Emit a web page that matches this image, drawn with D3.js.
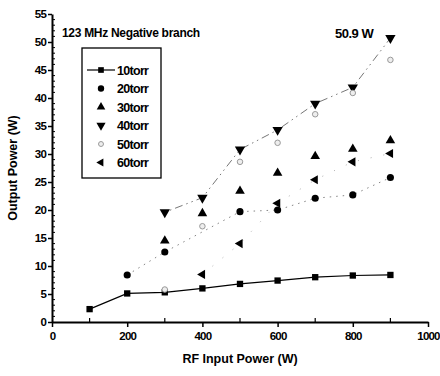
<!DOCTYPE html>
<html>
<head>
<meta charset="utf-8">
<script src="https://cdn.jsdelivr.net/npm/d3@7"></script>
<style>
  body { margin: 0; background: #fff; }
  svg text { font-family: "Liberation Sans", Arial, sans-serif; font-weight: bold; }
</style>
</head>
<body>
<svg width="440" height="376"></svg>
<script>
// values
var power = [100, 200, 300, 400, 500, 600, 700, 800, 900];
var torr10 = [2.3, 5.1, 5.3, 6.0, 6.8, 7.4, 8.0, 8.3, 8.4];
var torr20 = [null, 8.4, 12.5, null, 19.7, 20.0, 22.1, 22.7, 25.8];
var torr30 = [null, null, 14.5, 19.4, 23.4, 26.6, 29.6, 30.9, 32.4];
var torr40 = [null, null, 19.6, 22.2, 30.8, 34.3, 39.0, 41.9, 50.7];
var torr50 = [null, null, 5.8, 17.1, 28.6, 32.0, 37.1, 40.9, 46.8];
var torr60 = [null, null, null, 8.5, 14.0, 21.2, 25.4, 28.6, 30.1];
var seriesNames = ["10torr", "20torr", "30torr", "40torr", "50torr", "60torr"];
var xTicks = [0, 200, 400, 600, 800, 1000];
var yTicks = [0, 5, 10, 15, 20, 25, 30, 35, 40, 45, 50, 55];

var svg = d3.select("svg");

var xScale = d3.scaleLinear().domain([0, 1000]).range([52, 428]);
var yScale = d3.scaleLinear().domain([0, 55]).range([322, 14]);

//////////// axes ////////////
var xAxis = d3.axisBottom(xScale).tickValues(xTicks).tickFormat(d3.format("d")).tickSize(5).tickSizeOuter(0);
var gx = svg.append("g").attr("transform", "translate(0,322)").call(xAxis);
gx.select(".domain").attr("stroke-width", 2);
gx.selectAll(".tick line").attr("stroke-width", 1.5);
gx.selectAll(".tick text").attr("font-size", "11.5px").attr("dy", "0.9em").attr("letter-spacing", "-0.8");

// minor x ticks pointing up
svg.append("g").selectAll("line")
  .data(d3.range(100, 1000, 200))
  .join("line")
  .attr("x1", d => xScale(d)).attr("x2", d => xScale(d))
  .attr("y1", 322).attr("y2", 318)
  .attr("stroke", "#000").attr("stroke-width", 1.2);

var yAxis = d3.axisLeft(yScale).tickValues(yTicks).tickSize(4).tickSizeOuter(0);
var gy = svg.append("g").attr("transform", "translate(52,0)").call(yAxis);
gy.select(".domain").attr("stroke-width", 2);
gy.selectAll(".tick line").attr("stroke-width", 1.5);
gy.selectAll(".tick text").attr("font-size", "11.5px").attr("x", -6).attr("letter-spacing", "-0.8");

// minor y ticks pointing in
svg.append("g").selectAll("line")
  .data(d3.range(1, 55).filter(d => d % 5 != 0))
  .join("line")
  .attr("x1", 52).attr("x2", 55)
  .attr("y1", d => yScale(d)).attr("y2", d => yScale(d))
  .attr("stroke", "#000").attr("stroke-width", 1);

svg.append("text")
  .attr("text-anchor", "middle")
  .attr("font-size", "12.5px")
  .attr("transform", "translate(240,363)")
  .text("RF Input Power (W)");

svg.append("text")
  .attr("text-anchor", "middle")
  .attr("font-size", "12.5px")
  .attr("transform", "translate(17,168)rotate(-90)")
  .text("Output Power (W)");

svg.append("text")
  .attr("x", 62).attr("y", 37)
  .attr("font-size", "12px").attr("letter-spacing", "-0.3")
  .text("123 MHz Negative branch");

svg.append("text")
  .attr("x", 335).attr("y", 38)
  .attr("font-size", "13px").attr("letter-spacing", "-0.5")
  .text("50.9 W");

//////////// series ////////////
var allSeries = [torr10, torr20, torr30, torr40, torr50, torr60];
var shapes = [
  {type: d3.symbolSquare, size: 40, rot: 0, fill: "#000", stroke: "none"},
  {type: d3.symbolCircle, size: 40, rot: 0, fill: "#000", stroke: "none"},
  {type: d3.symbolTriangle, size: 40, rot: 0, fill: "#000", stroke: "none"},
  {type: d3.symbolTriangle, size: 46, rot: 180, fill: "#000", stroke: "none"},
  {type: d3.symbolCircle, size: 24, rot: 0, fill: "#eee", stroke: "#999"},
  {type: d3.symbolTriangle, size: 36, rot: -90, fill: "#000", stroke: "none"}
];

function points(vals) {
  return power.map((p, i) => [p, vals[i]]).filter(d => d[1] != null);
}

var line = d3.line().x(d => xScale(d[0])).y(d => yScale(d[1]));

// connecting lines
svg.append("path").attr("d", line(points(torr10)))
  .attr("fill", "none").attr("stroke", "#000").attr("stroke-width", 1.2);
svg.append("path").attr("d", line(points(torr40)))
  .attr("fill", "none").attr("stroke", "#666").attr("stroke-width", 0.9)
  .attr("stroke-dasharray", "1.5,4,1.5,4,8,4");
svg.append("path").attr("d", line(points(torr20)))
  .attr("fill", "none").attr("stroke", "#777").attr("stroke-width", 0.9)
  .attr("stroke-dasharray", "1.5,5");
svg.append("path").attr("d", line(points(torr60)))
  .attr("fill", "none").attr("stroke", "#999").attr("stroke-width", 0.8)
  .attr("stroke-dasharray", "1,12");

allSeries.forEach(function(vals, k) {
  var s = shapes[k];
  svg.append("g").selectAll("path")
    .data(points(vals))
    .join("path")
    .attr("d", d3.symbol().type(s.type).size(s.size))
    .attr("transform", d => "translate(" + xScale(d[0]) + "," + yScale(d[1]) + ")rotate(" + s.rot + ")")
    .attr("fill", s.fill).attr("stroke", s.stroke);
});

//////////// legend ////////////
var legend = svg.append("g");
legend.append("rect")
  .attr("x", 82).attr("y", 48).attr("width", 79).attr("height", 130)
  .attr("fill", "none").attr("stroke", "#000").attr("stroke-width", 1.3);

legend.append("line")
  .attr("x1", 87).attr("x2", 115).attr("y1", 70).attr("y2", 70)
  .attr("stroke", "#000").attr("stroke-width", 1.2);

seriesNames.forEach(function(name, k) {
  var s = shapes[k];
  var y = 70 + k * 18.5;
  legend.append("path")
    .attr("d", d3.symbol().type(s.type).size(s.size * 0.8))
    .attr("transform", "translate(101," + y + ")rotate(" + s.rot + ")")
    .attr("fill", s.fill).attr("stroke", s.stroke);
  legend.append("text")
    .attr("x", 117).attr("y", y + 4.5)
    .attr("font-size", "12.5px").attr("letter-spacing", "-0.7")
    .text(name);
});
</script>
</body>
</html>
